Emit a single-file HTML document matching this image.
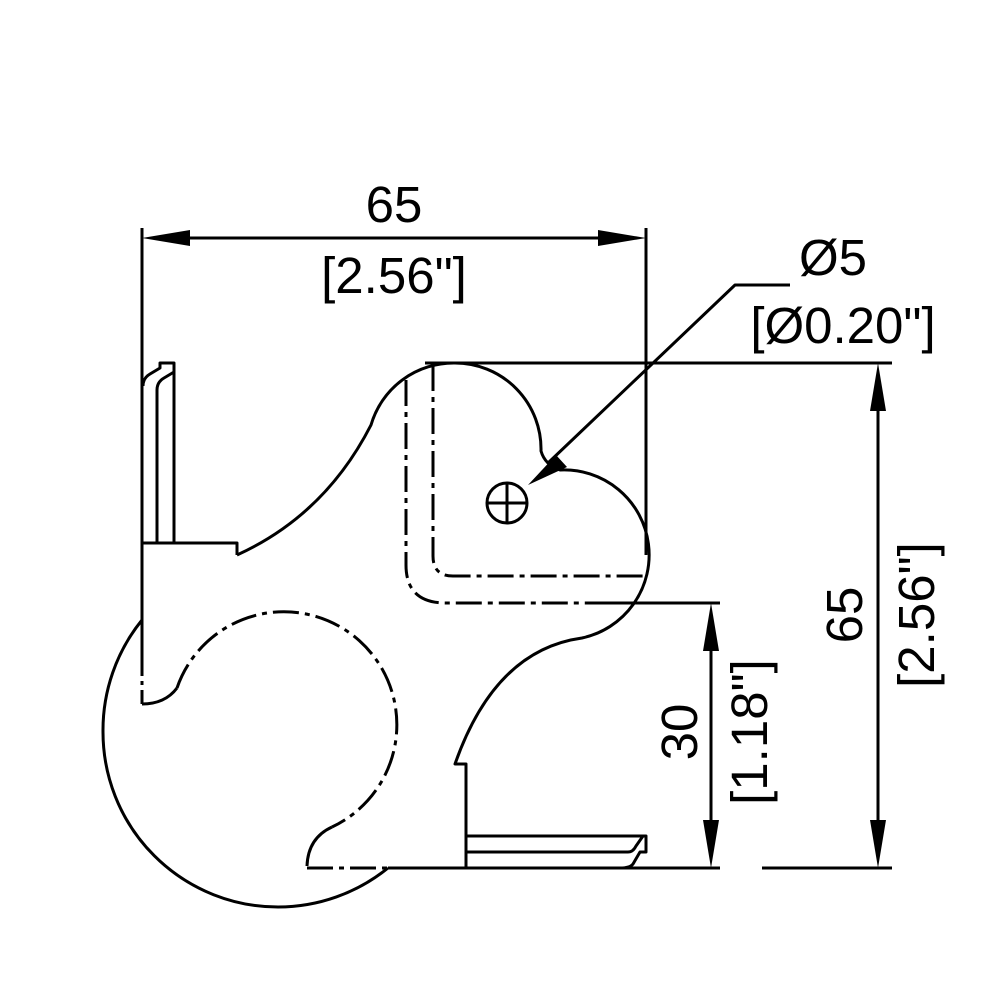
<!DOCTYPE html>
<html><head><meta charset="utf-8"><style>
html,body{margin:0;padding:0;background:#fff}
svg{display:block}
text{font-family:"Liberation Sans",sans-serif;font-size:51px;fill:#000}
</style></head><body>
<svg width="1000" height="1000" viewBox="0 0 1000 1000" xmlns="http://www.w3.org/2000/svg">
<g fill="none" stroke="#000" stroke-width="3" stroke-linejoin="round">
<line x1="142" y1="228" x2="142" y2="658"/>
<line x1="646" y1="228" x2="646" y2="555"/>
<line x1="160" y1="238" x2="628" y2="238"/>
<line x1="425" y1="363" x2="892" y2="363"/>
<line x1="762" y1="868" x2="892" y2="868"/>
<line x1="878" y1="381" x2="878" y2="850"/>
<line x1="590" y1="603" x2="720" y2="603"/>
<line x1="711" y1="621" x2="711" y2="850"/>
<line x1="388" y1="868" x2="720" y2="868" />
<path d="M157 543 V390 Q157 382 164 378 L174 372 V363 H160 V368 L150 374 Q143 378 143 386"/>
<line x1="174" y1="363" x2="174" y2="543"/>
<path d="M142 543 H237 V555"/>
<path d="M237 555 Q325 515 371 425 A86 86 0 0 1 455 363 A86 86 0 0 1 541 451 Q545 465 560 470 A85 85 0 0 1 582 638 Q495 650 455 764 H466 V868"/>
<path d="M466 836 H646 V852 L640 852 L633 864 Q630 868 620 868"/>
<path d="M466 852 H628 Q633 852 636 846 L643 836"/>
<path d="M142 620 A175 175 0 0 0 103 732 A175 175 0 0 0 278 907 A175 175 0 0 0 388 868"/>
<path d="M142 704 Q165 704 177 688"/>
<path d="M142 658 V704" stroke-dasharray="18 5 4 5"/>
<path d="M177 688 A113 113 0 1 1 332 827" stroke-dasharray="26 6 5 6"/>
<path d="M332 827 Q308 838 307 866"/>
<line x1="307" y1="868" x2="388" y2="868" stroke-dasharray="26 6 5 6"/>
<path d="M406 380 V565 Q406 603 446 603 H628" stroke-dasharray="26 6 5 6"/>
<path d="M433 365 V556 Q433 576 453 576 H643" stroke-dasharray="26 6 5 6"/>
<circle cx="507" cy="503" r="20"/>
<line x1="487" y1="503" x2="527" y2="503"/>
<line x1="507" y1="483" x2="507" y2="523"/>
<path d="M548 463 L735 285 H790"/>
</g>
<g fill="#000">
<polygon points="142,238 190,230 190,246"/>
<polygon points="646,238 598,230 598,246"/>
<polygon points="878,363 870,411 886,411"/>
<polygon points="878,868 870,820 886,820"/>
<polygon points="711,603 703,651 719,651"/>
<polygon points="711,868 703,820 719,820"/>
<polygon points="528,485 556,455 567,467"/>
</g>
<text x="394" y="222" text-anchor="middle">65</text>
<text x="394" y="293" text-anchor="middle">[2.56"]</text>
<text x="833" y="275" text-anchor="middle">Ø5</text>
<text x="843" y="343" text-anchor="middle">[Ø0.20"]</text>
<text transform="translate(862,615) rotate(-90)" text-anchor="middle">65</text>
<text transform="translate(934,615) rotate(-90)" text-anchor="middle">[2.56"]</text>
<text transform="translate(697,732) rotate(-90)" text-anchor="middle">30</text>
<text transform="translate(767,732) rotate(-90)" text-anchor="middle">[1.18"]</text>
</svg>
</body></html>
